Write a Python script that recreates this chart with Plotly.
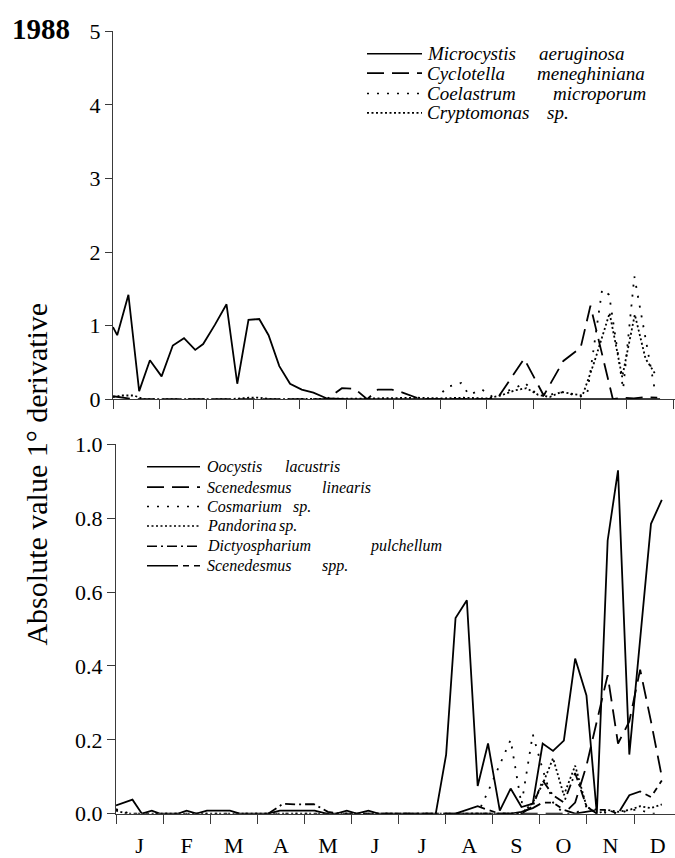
import plotly.graph_objects as go

# ---------------- data: |first derivative| of weekly biomass, 1988 ----------------
# sampling positions are given in months since 1 January (0 = Jan 1, 12 = Dec 31)

MONTHS = ["J", "F", "M", "A", "M", "J", "J", "A", "S", "O", "N", "D"]

# upper panel
microcystis_t = [0.0, 0.09, 0.33, 0.56, 0.79, 1.04, 1.28, 1.52, 1.76, 1.93, 2.18, 2.43, 2.66,
                 2.90, 3.13, 3.33, 3.56, 3.79, 4.04, 4.29, 4.58, 4.81, 5.04, 5.5, 5.96, 6.42,
                 6.88, 7.11, 7.34, 7.57, 7.8, 8.03, 8.49, 8.95, 9.18, 9.41, 9.87, 10.33,
                 10.79, 11.25, 11.48, 11.71]
microcystis_v = [0.98, 0.87, 1.42, 0.11, 0.53, 0.31, 0.73, 0.83, 0.67, 0.75, 1.01, 1.29, 0.21,
                 1.08, 1.09, 0.87, 0.45, 0.21, 0.13, 0.09, 0.01, 0.0, 0.0, 0.0, 0.0, 0.0,
                 0.0, 0.01, 0.01, 0.01, 0.0, 0.01, 0.0, 0.01, 0.01, 0.0, 0.0, 0.0,
                 0.0, 0.01, 0.01, 0.0]

cyclotella_t = [0.0, 0.2, 0.45, 0.9, 1.8, 2.7, 3.6, 4.35, 4.58, 4.9, 5.18, 5.44, 5.67, 5.97,
                6.2, 6.5, 6.75, 7.2, 7.7, 8.0, 8.24, 8.52, 8.8, 9.22, 9.64, 10.01, 10.22,
                10.7, 10.9, 11.15, 11.4, 11.65]
cyclotella_v = [0.04, 0.02, 0.0, 0.0, 0.0, 0.0, 0.0, 0.0, 0.0, 0.15, 0.14, 0.0, 0.13, 0.13,
                0.09, 0.02, 0.0, 0.0, 0.0, 0.0, 0.02, 0.28, 0.55, 0.05, 0.52, 0.70, 1.27,
                0.0, 0.02, 0.01, 0.03, 0.02]

coelastrum_t = [6.9, 7.17, 7.45, 7.62, 7.9, 8.15, 8.4, 8.6, 8.82, 9.05, 9.28, 9.5, 9.75,
                9.98, 10.15, 10.47, 10.62, 10.92, 11.16, 11.6]
coelastrum_v = [0.0, 0.17, 0.22, 0.06, 0.13, 0.02, 0.1, 0.15, 0.22, 0.08, 0.03, 0.1, 0.08,
                0.03, 0.07, 1.49, 1.42, 0.14, 1.67, 0.12]

cryptomonas_t = [0.0, 0.2, 0.45, 0.65, 1.5, 2.5, 2.9, 3.1, 3.4, 4.0, 4.5, 5.5, 6.5, 7.0, 7.5,
                 8.0, 8.3, 8.6, 8.85, 9.1, 9.35, 9.6, 9.85, 10.05, 10.3, 10.63, 10.9, 11.17,
                 11.4, 11.6]
cryptomonas_v = [0.03, 0.05, 0.05, 0.0, 0.0, 0.0, 0.02, 0.02, 0.0, 0.0, 0.0, 0.01, 0.02, 0.01,
                 0.02, 0.01, 0.05, 0.12, 0.15, 0.06, 0.03, 0.1, 0.07, 0.05, 0.5, 1.17, 0.3,
                 1.15, 0.55, 0.35]

# lower panel
oocystis_t = [0.0, 0.35, 0.55, 0.76, 0.93, 1.32, 1.5, 1.71, 1.93, 2.42, 2.63, 3.23, 3.48,
              4.22, 4.47, 4.68, 4.9, 5.11, 5.36, 5.57, 6.79, 7.01, 7.21, 7.45, 7.68, 7.90,
              8.15, 8.38, 8.61, 8.85, 9.06, 9.28, 9.51, 9.75, 9.99, 10.21, 10.44, 10.66,
              10.90, 11.13, 11.36, 11.59]
oocystis_v = [0.022, 0.038, 0.0, 0.008, 0.0, 0.0, 0.008, 0.0, 0.008, 0.008, 0.0, 0.0, 0.008,
              0.008, 0.0, 0.0, 0.008, 0.0, 0.008, 0.0, 0.0, 0.16, 0.53, 0.578, 0.075, 0.19,
              0.008, 0.068, 0.018, 0.027, 0.19, 0.17, 0.198, 0.42, 0.32, 0.0, 0.74, 0.93,
              0.16, 0.47, 0.785, 0.85]

s_linearis_t = [7.0, 7.5, 8.0, 8.5, 9.0, 9.51, 9.75, 9.99, 10.21, 10.44, 10.66, 10.90, 11.13,
                11.36, 11.59]
s_linearis_v = [0.0, 0.0, 0.0, 0.0, 0.0, 0.0, 0.03, 0.13, 0.25, 0.375, 0.19, 0.25, 0.39,
                0.25, 0.10]

cosmarium_t = [0.0, 0.3, 7.45, 7.68, 7.90, 8.15, 8.38, 8.61, 8.85, 9.06, 9.28, 9.51, 9.75,
               9.99, 10.21, 10.44, 10.66, 10.9, 11.13, 11.36, 11.59]
cosmarium_v = [0.012, 0.0, 0.0, 0.0, 0.06, 0.134, 0.2, 0.025, 0.215, 0.12, 0.03, 0.0, 0.0,
               0.02, 0.01, 0.0, 0.0, 0.01, 0.01, 0.0, 0.0]

pandorina_t = [0.0, 0.25, 8.61, 8.85, 9.06, 9.28, 9.51, 9.75, 9.99, 10.21, 10.44, 10.66,
               10.90, 11.13, 11.36, 11.59]
pandorina_v = [0.008, 0.0, 0.0, 0.03, 0.08, 0.15, 0.05, 0.13, 0.02, 0.0, 0.01, 0.005,
               0.01, 0.02, 0.015, 0.025]

dictyo_t = [3.23, 3.55, 3.85, 4.2, 4.5, 4.75, 8.61, 8.85, 9.06, 9.28, 9.51, 9.75, 9.99, 10.21]
dictyo_v = [0.0, 0.027, 0.025, 0.026, 0.005, 0.0, 0.0, 0.02, 0.09, 0.05, 0.03, 0.11, 0.02, 0.0]

s_spp_t = [7.21, 7.45, 7.68, 7.90, 8.15, 8.38, 8.61, 8.85, 9.06, 9.28, 9.51, 9.75, 9.99,
           10.21, 10.44, 10.66, 10.90, 11.13, 11.36, 11.59]
s_spp_v = [0.0, 0.01, 0.02, 0.01, 0.0, 0.0, 0.005, 0.015, 0.03, 0.03, 0.01, 0.0, 0.005,
           0.01, 0.01, 0.0, 0.05, 0.06, 0.045, 0.09]

# (genus, species) names for each panel
upper_names = [("Microcystis", "aeruginosa"), ("Cyclotella", "meneghiniana"),
               ("Coelastrum", "microporum"), ("Cryptomonas", "sp.")]
lower_names = [("Oocystis", "lacustris"), ("Scenedesmus", "linearis"), ("Cosmarium", "sp."),
               ("Pandorina", "sp."), ("Dictyospharium", "pulchellum"), ("Scenedesmus", "spp.")]

# ---------------- styling ----------------
W, H = 675, 858
FONT = "Liberation Serif"
INK = "black"
AX = "#3a3a3a"

SOLID = "solid"
LONGDASH = "17px,8px"
SPARSE_DOT = "2px,8px"
DENSE_DOT = "2px,2.5px"
DASHDOT = "10px,4px,2px,4px"
LONG_SHORT = "31px,5px,6px,5px,6px,5px"

upper_series = [(microcystis_t, microcystis_v, SOLID),
                (cyclotella_t, cyclotella_v, LONGDASH),
                (coelastrum_t, coelastrum_v, SPARSE_DOT),
                (cryptomonas_t, cryptomonas_v, DENSE_DOT)]
lower_series = [(oocystis_t, oocystis_v, SOLID),
                (s_linearis_t, s_linearis_v, LONGDASH),
                (cosmarium_t, cosmarium_v, SPARSE_DOT),
                (pandorina_t, pandorina_v, DENSE_DOT),
                (dictyo_t, dictyo_v, DASHDOT),
                (s_spp_t, s_spp_v, LONG_SHORT)]


def px_x(p):
    return p / W


def px_y(p):
    return 1 - p / H


fig = go.Figure()

for (t, v, dash), (g, s) in zip(upper_series, upper_names):
    fig.add_trace(go.Scatter(x=t, y=v, mode="lines", name=f"{g} {s}",
                             line=dict(color=INK, width=1.8, dash=dash),
                             xaxis="x", yaxis="y", showlegend=False, hoverinfo="skip"))

for (t, v, dash), (g, s) in zip(lower_series, lower_names):
    fig.add_trace(go.Scatter(x=t, y=v, mode="lines", name=f"{g} {s}",
                             line=dict(color=INK, width=1.8, dash=dash),
                             xaxis="x2", yaxis="y2", showlegend=False, hoverinfo="skip"))

# ---------------- hand-drawn legends ----------------
shapes, annotations = [], []


def legend_block(names, series, line_x0, line_x1, text_x, species_x, rows_y, size):
    for (g, s), (_, _, dash), sx, ry in zip(names, series, species_x, rows_y):
        shapes.append(dict(type="line", xref="paper", yref="paper",
                           x0=px_x(line_x0), x1=px_x(line_x1), y0=px_y(ry), y1=px_y(ry),
                           line=dict(color=INK, width=1.6, dash=dash)))
        annotations.append(dict(xref="paper", yref="paper", x=px_x(text_x), y=px_y(ry),
                                xanchor="left", yanchor="middle", showarrow=False,
                                text=f"<i>{g}</i>", font=dict(family=FONT, size=size, color=INK)))
        annotations.append(dict(xref="paper", yref="paper", x=px_x(sx), y=px_y(ry),
                                xanchor="left", yanchor="middle", showarrow=False,
                                text=f"<i>{s}</i>", font=dict(family=FONT, size=size, color=INK)))


legend_block(upper_names, upper_series, 367, 422, 425, [537, 535, 551, 545],
             [43, 63, 84, 104], 19)
legend_block(lower_names, lower_series, 147, 200, 205, [283, 320, 291, 277, 368, 320],
             [469, 490, 510, 530, 551, 571], 16)

annotations.append(dict(xref="paper", yref="paper", x=px_x(41), y=px_y(18),
                        xanchor="center", yanchor="middle", showarrow=False,
                        text="<b>1988</b>", font=dict(family=FONT, size=29, color=INK)))
annotations.append(dict(xref="paper", yref="paper", x=px_x(37), y=px_y(477),
                        xanchor="center", yanchor="middle", showarrow=False, textangle=-90,
                        text="Absolute value 1° derivative",
                        font=dict(family=FONT, size=30, color=INK)))

axis_common = dict(showgrid=False, zeroline=False, showline=True, linecolor=AX, linewidth=1,
                   tickcolor=AX, tickwidth=1, ticks="outside")

fig.update_layout(
    width=W, height=H, autosize=False,
    margin=dict(l=0, r=0, t=0, b=0, pad=0),
    paper_bgcolor="white", plot_bgcolor="white",
    font=dict(family=FONT, color=INK),
    shapes=shapes, annotations=annotations,
    xaxis=dict(domain=[px_x(113), 1.0], range=[0, 12.03], anchor="y",
               tickmode="array", tickvals=list(range(13)), showticklabels=False,
               ticklen=9, **axis_common),
    yaxis=dict(domain=[px_y(399.3), px_y(20)], range=[0, 5], anchor="x",
               tickmode="array", tickvals=[0, 1, 2, 3, 4, 5], ticklen=7,
               tickfont=dict(family=FONT, size=22, color=INK), **axis_common),
    xaxis2=dict(domain=[px_x(116), 1.0], range=[0, 11.87], anchor="y2",
                showgrid=False, zeroline=False, showline=True, linecolor=AX, linewidth=1,
                tickmode="array", tickvals=[i + 0.5 for i in range(12)], ticktext=MONTHS,
                ticks="", ticklabelstandoff=12, tickfont=dict(family=FONT, size=22, color=INK),
                minor=dict(tickmode="array", tickvals=list(range(13)), ticks="outside",
                           ticklen=9, tickcolor=AX, tickwidth=1, showgrid=False)),
    yaxis2=dict(domain=[px_y(826.7), px_y(446)], range=[0, 1], anchor="x2",
                tickmode="array", tickvals=[0, 0.2, 0.4, 0.6, 0.8, 1.0], tickformat=".1f",
                ticklen=8, tickfont=dict(family=FONT, size=22, color=INK), **axis_common),
)

fig.write_html("out.html")
